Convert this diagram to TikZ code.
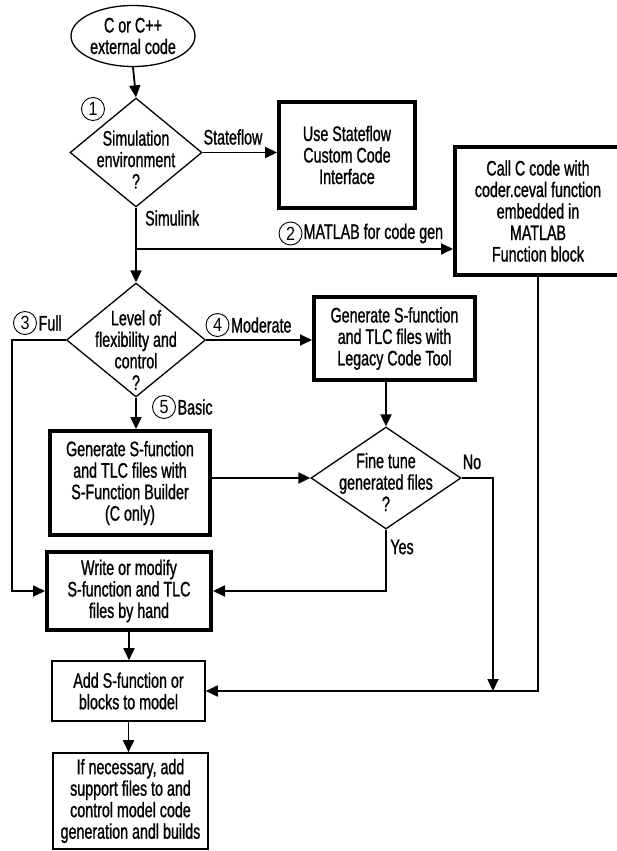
\documentclass[tikz,border=0pt]{standalone}
\usepackage{fontspec}
\setmainfont{Liberation Sans}[FakeStretch=0.68, FakeBold=1]
\newfontfamily\numfont{Liberation Sans}[FakeStretch=0.85]
\usetikzlibrary{arrows.meta,positioning,shapes.geometric}

\begin{document}
\begin{tikzpicture}[
  x=1pt, y=-1pt,
  font=\fontsize{21}{21.5}\selectfont,
  thickbox/.style={draw, rectangle, line width=4pt, align=center, inner sep=0pt},
  thinbox/.style={draw, rectangle, line width=1.6pt, align=center, inner sep=0pt},
  decision/.style={draw, diamond, line width=1.3pt, inner sep=0pt},
  terminal/.style={draw, ellipse, line width=1.3pt, align=center, inner sep=0pt},
  txt/.style={align=center, inner sep=0pt},
  lbl/.style={inner sep=0pt},
  numcirc/.style={draw, circle, line width=0.9pt, minimum size=23pt, inner sep=0pt,
                  font=\numfont\fontsize{19}{19}\selectfont},
  >={Triangle[length=12pt,width=11pt]},
  arrline/.style={->, line width=1.8pt},
]
\useasboundingbox (0,0) rectangle (617,851);

% ============ start: external code ============
\node[terminal, minimum width=124pt, minimum height=61pt] (extcode) at (133,36) {C or C++\\external code};

% ============ decision 1: simulation environment ============
\node[decision, minimum width=132pt, minimum height=109pt,
      label={[txt, yshift=-7pt]center:Simulation\\environment\\?}] (simenv) at (136,152.5) {};
\node[numcirc] (num1) at (93,109) {1};

% ============ Stateflow box ============
\node[thickbox, minimum width=136pt, minimum height=106pt] (sfcustom) at (347,155) {Use Stateflow\\Custom Code\\Interface};

% ============ coder.ceval box (cut by right edge) ============
\node[thickbox, minimum width=166pt, minimum height=128pt] (cceval) at (538,211) {Call C code with\\coder.ceval function\\embedded in\\MATLAB\\Function block};

% ============ decision 2: level of flexibility ============
\node[decision, minimum width=139pt, minimum height=114pt,
      label={[txt, yshift=-10pt]center:Level of\\flexibility and\\control\\?}] (flexlvl) at (136,340) {};

% ============ Legacy Code Tool box ============
\node[thickbox, minimum width=161pt, minimum height=83pt] (legacy) at (394.5,338.5) {Generate S-function\\and TLC files with\\Legacy Code Tool};

% ============ decision 3: fine tune ============
\node[decision, minimum width=150pt, minimum height=102pt,
      label={[txt, yshift=-4pt]center:Fine tune\\generated files\\?}] (finetune) at (386,478) {};

% ============ S-Function Builder box ============
\node[thickbox, minimum width=160pt, minimum height=104pt] (sfbuilder) at (130,483) {Generate S-function\\and TLC files with\\S-Function Builder\\(C only)};

% ============ hand written box ============
\node[thickbox, minimum width=164pt, minimum height=78pt] (handwrite) at (129,591) {Write or modify\\S-function and TLC\\files by hand};

% ============ add to model ============
\node[thinbox, minimum width=153pt, minimum height=60pt] (addblk) at (128.5,691) {Add S-function or\\blocks to model};

% ============ support files ============
\node[thinbox, minimum width=155pt, minimum height=96pt] (supfiles) at (130.5,801) {If necessary, add\\support files to and\\control model code\\generation andl builds};

% ===================== LABELS =====================
\node[lbl] (lblsf) at (233,137) {Stateflow};
\node[lbl, anchor=west] (lblsim) at (145,218) {Simulink};

\node[numcirc] (num2) at (290.5,233.5) {2};
\node[lbl, right=1pt of num2] (lblml) {MATLAB for code gen};

\node[numcirc] (num3) at (25,323) {3};
\node[lbl, right=1.5pt of num3] (lblfull) {Full};

\node[numcirc] (num4) at (217.5,325) {4};
\node[lbl, right=1.5pt of num4] (lblmod) {Moderate};

\node[numcirc] (num5) at (164,407) {5};
\node[lbl, right=1.5pt of num5] (lblbasic) {Basic};

\node[lbl] (lblno) at (472,462) {No};
\node[lbl] (lblyes) at (402,547) {Yes};

% ===================== ARROWS =====================
\coordinate (simsplit) at (136,249);
\coordinate (fullbend) at (12,340);
\coordinate (nodrop) at (493,691);

\draw[arrline] (extcode.south) -- (simenv.north);
\draw[arrline] (simenv.east) -- (simenv.east -| sfcustom.west);
\draw[arrline] (simenv.south) -- (flexlvl.north);
\draw[arrline] (simsplit) -- (simsplit -| cceval.west);

\draw[arrline] (flexlvl.east) -- (flexlvl.east -| legacy.west);
\draw[arrline] (flexlvl.south) -- (flexlvl.south |- sfbuilder.north);
\draw[arrline] (flexlvl.west) -- (fullbend) |- (handwrite.west);

\draw[arrline] (finetune.north |- legacy.south) -- (finetune.north);
\draw[arrline] (finetune.west -| sfbuilder.east) -- (finetune.west);
\draw[arrline] (finetune.south) |- (handwrite.east);
\draw[arrline] (finetune.east) -| (nodrop);

\draw[arrline] (cceval.south) |- (addblk.east);
\draw[arrline] (handwrite.south) -- (handwrite.south |- addblk.north);
\draw[arrline] (addblk.south) -- (addblk.south |- supfiles.north);

\end{tikzpicture}
\end{document}
